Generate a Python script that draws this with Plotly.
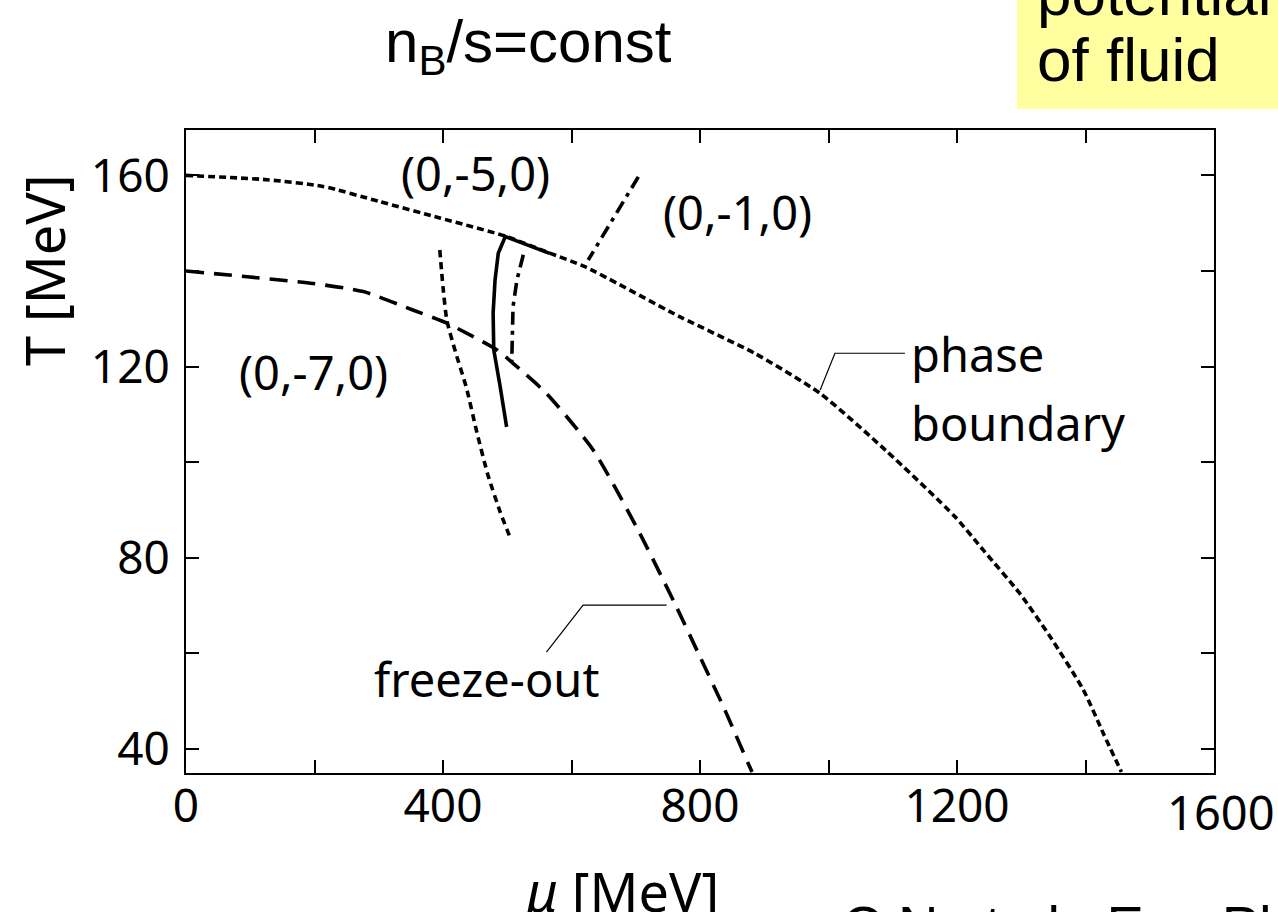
import plotly.graph_objects as go

# ---- curves in the (mu, T) plane, MeV ----
# phase boundary
pb_mu = [0, 126, 213, 302, 395, 497, 561, 621, 769, 885, 987, 1089, 1197, 1241, 1298, 1345, 1397, 1428, 1456]
pb_T = [160, 159.1, 157.7, 154.5, 151.1, 147.3, 144.0, 140.9, 130.4, 122.8, 114.4, 102.5, 88.6, 81.6, 72.5, 63.5, 52.3, 43.2, 35.2]

# chemical freeze-out line
fo_mu = [0, 95, 198, 276, 354, 406, 484, 509, 561, 634, 701, 761, 800, 839, 875, 881]
fo_T = [140, 138.8, 137.4, 135.7, 131.8, 129.1, 123.5, 120.7, 114.4, 102.5, 86.5, 70.4, 59.3, 48.1, 37.0, 35.2]

# isentropic trajectory (0,-5,0)
t5_mu = [566, 497, 486, 481, 478, 479, 489, 499]
t5_T = [143.7, 147.2, 143.7, 138.1, 131.2, 123.5, 115.8, 107.4]

# isentropic trajectory (0,-1,0): QGP part, then hadronic part
t1_mu = [704, 626, None, 525, 515, 509, 507, 507]
t1_T = [159.7, 142.3, None, 143.4, 138.1, 132.5, 125.6, 121.0]

# isentropic trajectory (0,-7,0)
t7_mu = [395, 400, 406, 420, 436, 453, 470, 489, 504]
t7_T = [144.4, 136.7, 129.7, 122.8, 115.8, 106.1, 97.3, 89.6, 84.4]

# callout leader lines
lead_pb_mu = [1119, 1010, 987]
lead_pb_T = [122.8, 122.8, 115.1]
lead_fo_mu = [748, 618, 561]
lead_fo_T = [70.1, 70.1, 60.3]

x_ticks = [0, 400, 800, 1200]
x_labels = ["0", "400", "800", "1200"]
y_ticks = [40, 80, 120, 160]
y_labels = ["40", "80", "120", "160"]

W, H = 1278, 912
L, R, T, B = 186, 1214, 130, 773


def pxx(x):
    return (x - L) / (R - L)


def pxy(y):
    return (B - y) / (B - T)


FONT = "Noto Sans"
SLIDE_FONT = "Liberation Sans"
LW = 3.6

fig = go.Figure()
fig.add_trace(go.Scatter(x=pb_mu, y=pb_T, mode="lines",
                         line=dict(color="black", width=LW, dash="7px,4px",
                                   shape="spline", smoothing=0.6)))
fig.add_trace(go.Scatter(x=fo_mu, y=fo_T, mode="lines",
                         line=dict(color="black", width=LW, dash="18px,10px",
                                   shape="spline", smoothing=0.6)))
fig.add_trace(go.Scatter(x=t5_mu, y=t5_T, mode="lines",
                         line=dict(color="black", width=LW)))
fig.add_trace(go.Scatter(x=t1_mu, y=t1_T, mode="lines", connectgaps=False,
                         line=dict(color="black", width=LW, dash="13px,6px,4px,6px")))
fig.add_trace(go.Scatter(x=t7_mu, y=t7_T, mode="lines",
                         line=dict(color="black", width=LW, dash="7px,5px",
                                   shape="spline", smoothing=0.6)))
fig.add_trace(go.Scatter(x=lead_pb_mu, y=lead_pb_T, mode="lines",
                         line=dict(color="black", width=1.2)))
fig.add_trace(go.Scatter(x=lead_fo_mu, y=lead_fo_T, mode="lines",
                         line=dict(color="black", width=1.2)))

annotations = [
    dict(x=451, y=160.5, text="(0,-5,0)", xref="x", yref="y"),
    dict(x=858, y=152.4, text="(0,-1,0)", xref="x", yref="y"),
    dict(x=199, y=118.9, text="(0,-7,0)", xref="x", yref="y"),
    dict(x=1125, y=122.6, text="phase", xref="x", yref="y", xanchor="left"),
    dict(x=1125, y=108.2, text="boundary", xref="x", yref="y", xanchor="left"),
    dict(x=467, y=54.6, text="freeze-out", xref="x", yref="y"),
    dict(x=pxx(1221), y=pxy(812), text="1600", xref="paper", yref="paper"),
]
for a in annotations:
    a.setdefault("xanchor", "center")
    a.update(yanchor="middle", showarrow=False,
             font=dict(family=FONT, size=47, color="black"))

annotations += [
    dict(x=pxx(44), y=pxy(271), text="T [MeV]", textangle=-90,
         font=dict(family=FONT, size=54, color="black")),
    dict(x=pxx(621), y=pxy(852), yanchor="top", text="<i>\u03bc</i> [MeV]",
         font=dict(family=FONT, size=54, color="black")),
    dict(x=pxx(528), y=pxy(46), text="n<sub>B</sub>/s=const",
         font=dict(family=SLIDE_FONT, size=60, color="black")),
    dict(x=pxx(1035), y=pxy(60), xanchor="left", text="of fluid",
         font=dict(family=SLIDE_FONT, size=62, color="black")),
    dict(x=pxx(1035), y=pxy(-6), xanchor="left", text="potential",
         font=dict(family=SLIDE_FONT, size=62, color="black")),
    dict(x=pxx(840), y=pxy(892), xanchor="left", yanchor="top",
         text="C.N et al., Eur. Phys. J.",
         font=dict(family=SLIDE_FONT, size=56, color="black")),
]
for a in annotations:
    a.setdefault("xref", "paper")
    a.setdefault("yref", "paper")
    a.setdefault("xanchor", "center")
    a.setdefault("yanchor", "middle")
    a["showarrow"] = False

axis_common = dict(
    showline=True, linecolor="black", linewidth=2, mirror="ticks",
    ticks="inside", ticklen=13, tickwidth=1.5, tickcolor="black",
    showgrid=False, zeroline=False,
    tickfont=dict(family=FONT, size=46, color="black"),
)

fig.update_layout(
    width=W, height=H, autosize=False,
    margin=dict(l=L, r=W - R, t=T, b=H - B, pad=0),
    paper_bgcolor="white", plot_bgcolor="white",
    showlegend=False,
    xaxis=dict(range=[0, 1600], tickmode="array", tickvals=x_ticks,
               ticktext=x_labels, ticklabelstandoff=-8,
               minor=dict(tick0=0, dtick=200, ticks="inside", ticklen=13,
                          tickwidth=1.5, tickcolor="black", showgrid=False),
               **axis_common),
    yaxis=dict(range=[35, 169.5], tickmode="array", tickvals=y_ticks,
               ticktext=y_labels, ticklabelstandoff=5,
               minor=dict(tick0=0, dtick=20, ticks="inside", ticklen=13,
                          tickwidth=1.5, tickcolor="black", showgrid=False),
               **axis_common),
    annotations=annotations,
    shapes=[dict(type="rect", xref="paper", yref="paper",
                 x0=pxx(1017), x1=pxx(1290), y0=pxy(109), y1=pxy(-20),
                 fillcolor="#ffff9f", line=dict(width=0), layer="below")],
)

fig.write_html("out.html")
